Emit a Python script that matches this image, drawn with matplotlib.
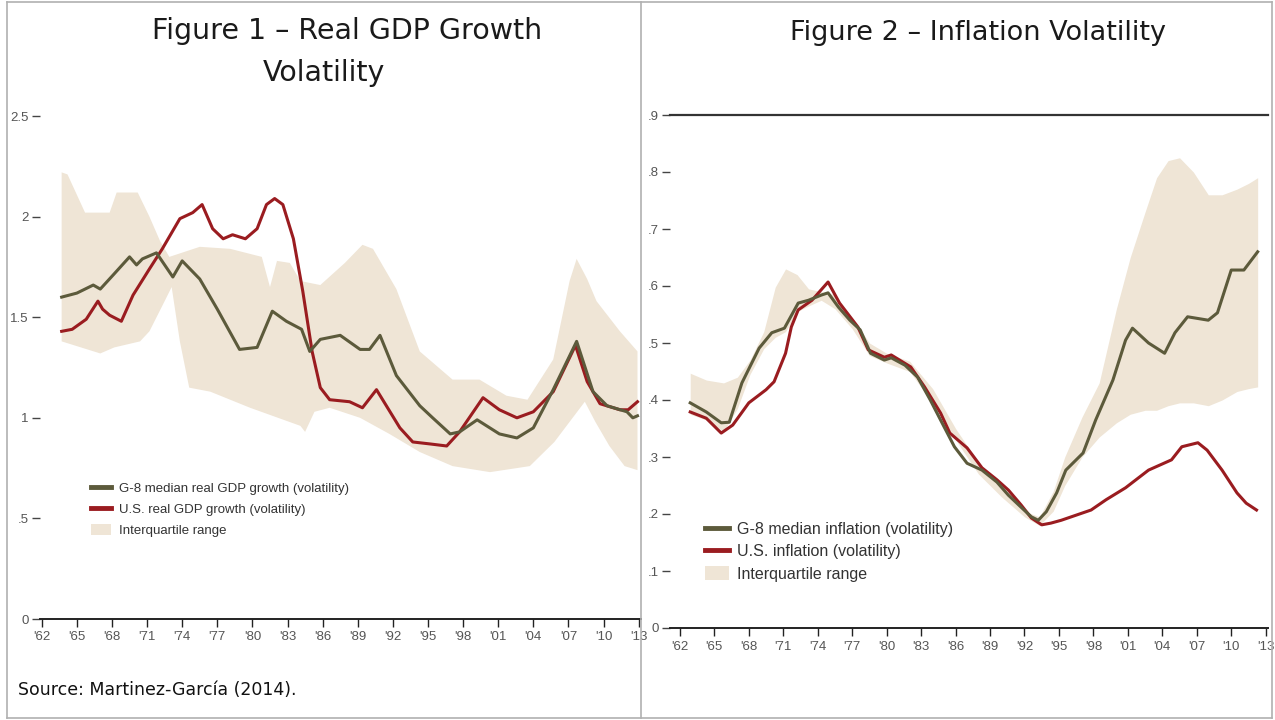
import numpy as np
import matplotlib.pyplot as plt
from matplotlib.lines import Line2D
from matplotlib.patches import Patch

# =====================
# Figure 1: real GDP growth volatility
# =====================
gdp_g8_years = [1963.7, 1965.0, 1966.4, 1967.0, 1968.1, 1969.5, 1970.1, 1970.6, 1971.8, 1973.2,
                1974.0, 1975.5, 1977.0, 1978.9, 1980.4, 1981.7, 1982.9, 1984.2, 1984.9, 1985.8,
                1987.5, 1989.2, 1990.0, 1990.9, 1992.3, 1994.3, 1995.4, 1996.9, 1997.7, 1999.2,
                2001.1, 2002.6, 2004.0, 2005.7, 2007.7, 2009.1, 2010.3, 2012.0, 2012.5, 2012.9]
gdp_g8 = [1.60, 1.62, 1.66, 1.64, 1.71, 1.80, 1.76, 1.79, 1.82, 1.70,
          1.78, 1.69, 1.54, 1.34, 1.35, 1.53, 1.48, 1.44, 1.33, 1.39,
          1.41, 1.34, 1.34, 1.41, 1.21, 1.06, 1.00, 0.92, 0.93, 0.99,
          0.92, 0.90, 0.95, 1.14, 1.38, 1.13, 1.06, 1.03, 1.00, 1.01]

gdp_us_years = [1963.7, 1964.6, 1965.8, 1966.8, 1967.2, 1967.8, 1968.8, 1969.8, 1971.2, 1972.3,
                1973.8, 1974.9, 1975.7, 1976.6, 1977.5, 1978.3, 1979.4, 1980.4, 1981.2, 1981.9,
                1982.6, 1983.5, 1984.3, 1985.1, 1985.8, 1986.6, 1988.3, 1989.4, 1990.6, 1992.6,
                1993.7, 1995.2, 1996.6, 1997.7, 1999.7, 2001.1, 2002.6, 2004.0, 2005.7, 2007.6,
                2008.6, 2009.7, 2011.4, 2012.1, 2012.9]
gdp_us = [1.43, 1.44, 1.49, 1.58, 1.54, 1.51, 1.48, 1.61, 1.74, 1.84,
          1.99, 2.02, 2.06, 1.94, 1.89, 1.91, 1.89, 1.94, 2.06, 2.09,
          2.06, 1.89, 1.63, 1.33, 1.15, 1.09, 1.08, 1.05, 1.14, 0.95,
          0.88, 0.87, 0.86, 0.93, 1.10, 1.04, 1.00, 1.03, 1.13, 1.36,
          1.18, 1.07, 1.04, 1.04, 1.08]

gdp_iqr_top_years = [1963.7, 1964.2, 1965.7, 1967.8, 1968.4, 1970.2, 1971.2, 1972.1, 1972.9, 1975.5,
                     1978.1, 1980.8, 1981.5, 1982.1, 1983.2, 1984.1, 1985.8, 1987.9, 1989.4, 1990.3,
                     1992.3, 1994.3, 1997.1, 1999.4, 2001.7, 2003.5, 2005.7, 2007.1, 2007.7, 2008.6,
                     2009.4, 2011.4, 2012.9]
gdp_iqr_top = [2.22, 2.21, 2.02, 2.02, 2.12, 2.12, 2.00, 1.88, 1.80, 1.85,
               1.84, 1.80, 1.65, 1.78, 1.77, 1.68, 1.66, 1.77, 1.86, 1.84,
               1.64, 1.33, 1.19, 1.19, 1.11, 1.09, 1.29, 1.68, 1.79, 1.69,
               1.58, 1.43, 1.33]
gdp_iqr_bot_years = [1963.7, 1967.0, 1968.2, 1970.4, 1971.2, 1972.5, 1973.1, 1973.8, 1974.6, 1976.4,
                     1979.8, 1984.1, 1984.5, 1985.3, 1986.6, 1989.2, 1991.7, 1994.3, 1997.1, 2000.3,
                     2003.7, 2005.8, 2007.1, 2008.4, 2009.3, 2010.5, 2011.8, 2012.9]
gdp_iqr_bot = [1.38, 1.32, 1.35, 1.38, 1.43, 1.58, 1.65, 1.38, 1.15, 1.13,
               1.05, 0.96, 0.93, 1.03, 1.05, 1.00, 0.92, 0.83, 0.76, 0.73,
               0.76, 0.88, 0.98, 1.08, 0.98, 0.86, 0.76, 0.74]

# =====================
# Figure 2: inflation volatility
# =====================
inf_g8_years = [1962.9, 1964.3, 1965.6, 1966.3, 1967.4, 1968.9, 1970.0, 1971.1, 1972.3, 1973.2,
                1974.3, 1974.9, 1975.8, 1976.8, 1977.7, 1978.6, 1979.8, 1980.4, 1981.6, 1982.7,
                1983.8, 1985.0, 1985.9, 1987.0, 1988.3, 1989.6, 1990.6, 1991.7, 1992.6, 1993.2,
                1993.9, 1994.8, 1995.6, 1997.1, 1998.2, 1999.7, 2000.8, 2001.4, 2002.8, 2004.2,
                2005.1, 2006.2, 2008.0, 2008.8, 2010.0, 2011.1, 2012.3]
inf_g8 = [0.395, 0.379, 0.360, 0.361, 0.430, 0.491, 0.518, 0.526, 0.570, 0.575,
          0.584, 0.588, 0.563, 0.540, 0.523, 0.482, 0.470, 0.474, 0.461, 0.440,
          0.400, 0.353, 0.318, 0.289, 0.277, 0.256, 0.233, 0.212, 0.195, 0.189,
          0.204, 0.237, 0.277, 0.307, 0.365, 0.435, 0.505, 0.526, 0.500, 0.482,
          0.518, 0.546, 0.540, 0.553, 0.628, 0.628, 0.660]

inf_us_years = [1962.9, 1964.3, 1965.6, 1966.6, 1968.0, 1969.5, 1970.2, 1971.2, 1971.7, 1972.3,
                1973.5, 1974.9, 1975.9, 1977.5, 1978.4, 1979.8, 1980.4, 1982.1, 1983.3, 1984.7,
                1985.5, 1987.0, 1988.3, 1989.6, 1990.6, 1991.7, 1992.6, 1993.5, 1994.3, 1995.2,
                1996.5, 1997.8, 1999.1, 2000.8, 2002.8, 2004.8, 2005.7, 2007.1, 2007.9, 2009.2,
                2010.5, 2011.3, 2012.2]
inf_us = [0.379, 0.368, 0.342, 0.356, 0.395, 0.418, 0.432, 0.482, 0.528, 0.558,
          0.575, 0.607, 0.570, 0.528, 0.488, 0.475, 0.479, 0.458, 0.423, 0.377,
          0.342, 0.316, 0.281, 0.260, 0.242, 0.216, 0.193, 0.181, 0.184, 0.189,
          0.198, 0.207, 0.225, 0.246, 0.277, 0.295, 0.318, 0.325, 0.312, 0.277,
          0.237, 0.219, 0.207]

inf_iqr_years = [1962.9, 1964.3, 1965.8, 1967.0, 1968.1, 1969.3, 1970.3, 1971.2, 1972.2, 1973.2,
                 1974.3, 1975.5, 1977.0, 1978.5, 1980.0, 1982.0, 1984.0, 1986.0, 1988.0, 1990.0,
                 1992.0, 1993.3, 1994.5, 1995.5, 1997.0, 1998.5, 2000.0, 2001.2, 2002.5, 2003.5,
                 2004.5, 2005.5, 2006.7, 2008.0, 2009.2, 2010.5, 2011.5, 2012.3]
inf_iqr_top = [0.447, 0.435, 0.430, 0.440, 0.470, 0.520, 0.598, 0.630, 0.620, 0.595,
               0.590, 0.585, 0.545, 0.500, 0.482, 0.468, 0.420, 0.350, 0.290, 0.245,
               0.205, 0.195, 0.240, 0.300, 0.370, 0.430, 0.560, 0.650, 0.730, 0.790,
               0.820, 0.825, 0.800, 0.760, 0.760, 0.770, 0.780, 0.790]
inf_iqr_bot = [0.375, 0.365, 0.345, 0.385, 0.445, 0.490, 0.510, 0.520, 0.555, 0.565,
               0.575, 0.560, 0.525, 0.478, 0.465, 0.450, 0.395, 0.330, 0.270, 0.230,
               0.195, 0.180, 0.205, 0.250, 0.300, 0.335, 0.360, 0.375, 0.382, 0.382,
               0.390, 0.395, 0.395, 0.390, 0.400, 0.415, 0.420, 0.423]

tick_years = list(range(1962, 2014, 3))
tick_labels = ["'62", "'65", "'68", "'71", "'74", "'77", "'80", "'83", "'86", "'89",
               "'92", "'95", "'98", "'01", "'04", "'07", "'10", "'13"]

gdp_yticks = [0, 0.5, 1, 1.5, 2, 2.5]
gdp_ylabels = ["0", ".5", "1", "1.5", "2", "2.5"]
inf_yticks = [0, 0.1, 0.2, 0.3, 0.4, 0.5, 0.6, 0.7, 0.8, 0.9]
inf_ylabels = ["0", ".1", ".2", ".3", ".4", ".5", ".6", ".7", ".8", ".9"]

OLIVE = '#5c5a3b'
RED = '#9a1c20'
BAND = '#efe5d6'
NARROW = ['Liberation Sans Narrow', 'Liberation Sans', 'DejaVu Sans']

W, H = 1275, 720
fig = plt.figure(figsize=(W / 100, H / 100), dpi=100)


def px_axes(left, top, right, bottom):
    return fig.add_axes([left / W, 1 - bottom / H, (right - left) / W, (bottom - top) / H])


def style_axes(ax, yticks, ylabels):
    for s in ['left', 'right', 'top']:
        ax.spines[s].set_visible(False)
    ax.spines['bottom'].set_color('#222222')
    ax.spines['bottom'].set_linewidth(1.4)
    ax.set_xticks(tick_years)
    ax.set_xticklabels(tick_labels, fontsize=9.5, color='#555555', family=NARROW)
    ax.set_yticks(yticks)
    ax.set_yticklabels(ylabels, fontsize=9.5, color='#555555', family=NARROW)
    ax.tick_params(axis='x', direction='out', length=6, width=1, color='#222222', pad=3)
    ax.tick_params(axis='y', direction='out', length=6, width=1, color='#444444', pad=2)
    ax.set_facecolor('none')


# ---- Figure 1 ----
ax1 = px_axes(40, 106, 641, 619)
ax1.fill(np.concatenate([gdp_iqr_top_years, gdp_iqr_bot_years[::-1]]),
         np.concatenate([gdp_iqr_top, gdp_iqr_bot[::-1]]),
         color=BAND, lw=0, zorder=1)
ax1.plot(gdp_g8_years, gdp_g8, color=OLIVE, lw=2.2, zorder=3)
ax1.plot(gdp_us_years, gdp_us, color=RED, lw=2.2, zorder=2)
ax1.set_xlim(1961.85, 2013.2)
ax1.set_ylim(0, 2.55)
style_axes(ax1, gdp_yticks, gdp_ylabels)

h1 = [Line2D([], [], color=OLIVE, lw=3.5),
      Line2D([], [], color=RED, lw=3.5),
      Patch(facecolor=BAND, edgecolor='none')]
ax1.legend(h1, ['G-8 median real GDP growth (volatility)',
                'U.S. real GDP growth (volatility)',
                'Interquartile range'],
           loc='upper left', bbox_to_anchor=(0.065, 0.29), frameon=False,
           handlelength=1.5, handleheight=0.9, handletextpad=0.6, labelspacing=0.6,
           prop={'family': NARROW, 'size': 9.5}, labelcolor='#333333')

# ---- Figure 2 ----
ax2 = px_axes(670, 115, 1268, 628)
ax2.fill_between(inf_iqr_years, inf_iqr_bot, inf_iqr_top, color=BAND, lw=0, zorder=1)
ax2.plot(inf_g8_years, inf_g8, color=OLIVE, lw=2.2, zorder=3)
ax2.plot(inf_us_years, inf_us, color=RED, lw=2.2, zorder=2)
ax2.set_xlim(1961.14, 2013.2)
ax2.set_ylim(0, 0.9)
style_axes(ax2, inf_yticks, inf_ylabels)
ax2.spines['top'].set_visible(True)
ax2.spines['top'].set_color('#333333')
ax2.spines['top'].set_linewidth(1.6)

h2 = [Line2D([], [], color=OLIVE, lw=3.5),
      Line2D([], [], color=RED, lw=3.5),
      Patch(facecolor=BAND, edgecolor='none')]
ax2.legend(h2, ['G-8 median inflation (volatility)',
                'U.S. inflation (volatility)',
                'Interquartile range'],
           loc='upper left', bbox_to_anchor=(0.035, 0.235), frameon=False,
           handlelength=1.5, handleheight=0.9, handletextpad=0.5, labelspacing=0.45,
           prop={'family': NARROW, 'size': 11.5}, labelcolor='#333333')

# ---- titles, source, table borders ----
fig.text(347 / W, 1 - 31 / H, 'Figure 1 \u2013 Real GDP Growth', ha='center', va='center',
         fontsize=20.5, color='#1a1a1a')
fig.text(324 / W, 1 - 73 / H, 'Volatility', ha='center', va='center',
         fontsize=20.5, color='#1a1a1a')
fig.text(978 / W, 1 - 33 / H, 'Figure 2 \u2013 Inflation Volatility', ha='center', va='center',
         fontsize=19.5, color='#1a1a1a')
fig.text(18 / W, 1 - 690 / H, 'Source: Martinez-Garc\u00eda (2014).', ha='left', va='center',
         fontsize=12.5, color='#111111')

border = dict(color='#b0b0b0', lw=1.2, transform=fig.transFigure)
fig.add_artist(Line2D([7 / W, 1272 / W], [1 - 2 / H, 1 - 2 / H], **border))
fig.add_artist(Line2D([7 / W, 1272 / W], [1 - 718 / H, 1 - 718 / H], **border))
fig.add_artist(Line2D([7 / W, 7 / W], [1 - 2 / H, 1 - 718 / H], **border))
fig.add_artist(Line2D([641 / W, 641 / W], [1 - 2 / H, 1 - 718 / H], **border))
fig.add_artist(Line2D([1272 / W, 1272 / W], [1 - 2 / H, 1 - 718 / H], **border))

fig.savefig('out.png', dpi=100)
